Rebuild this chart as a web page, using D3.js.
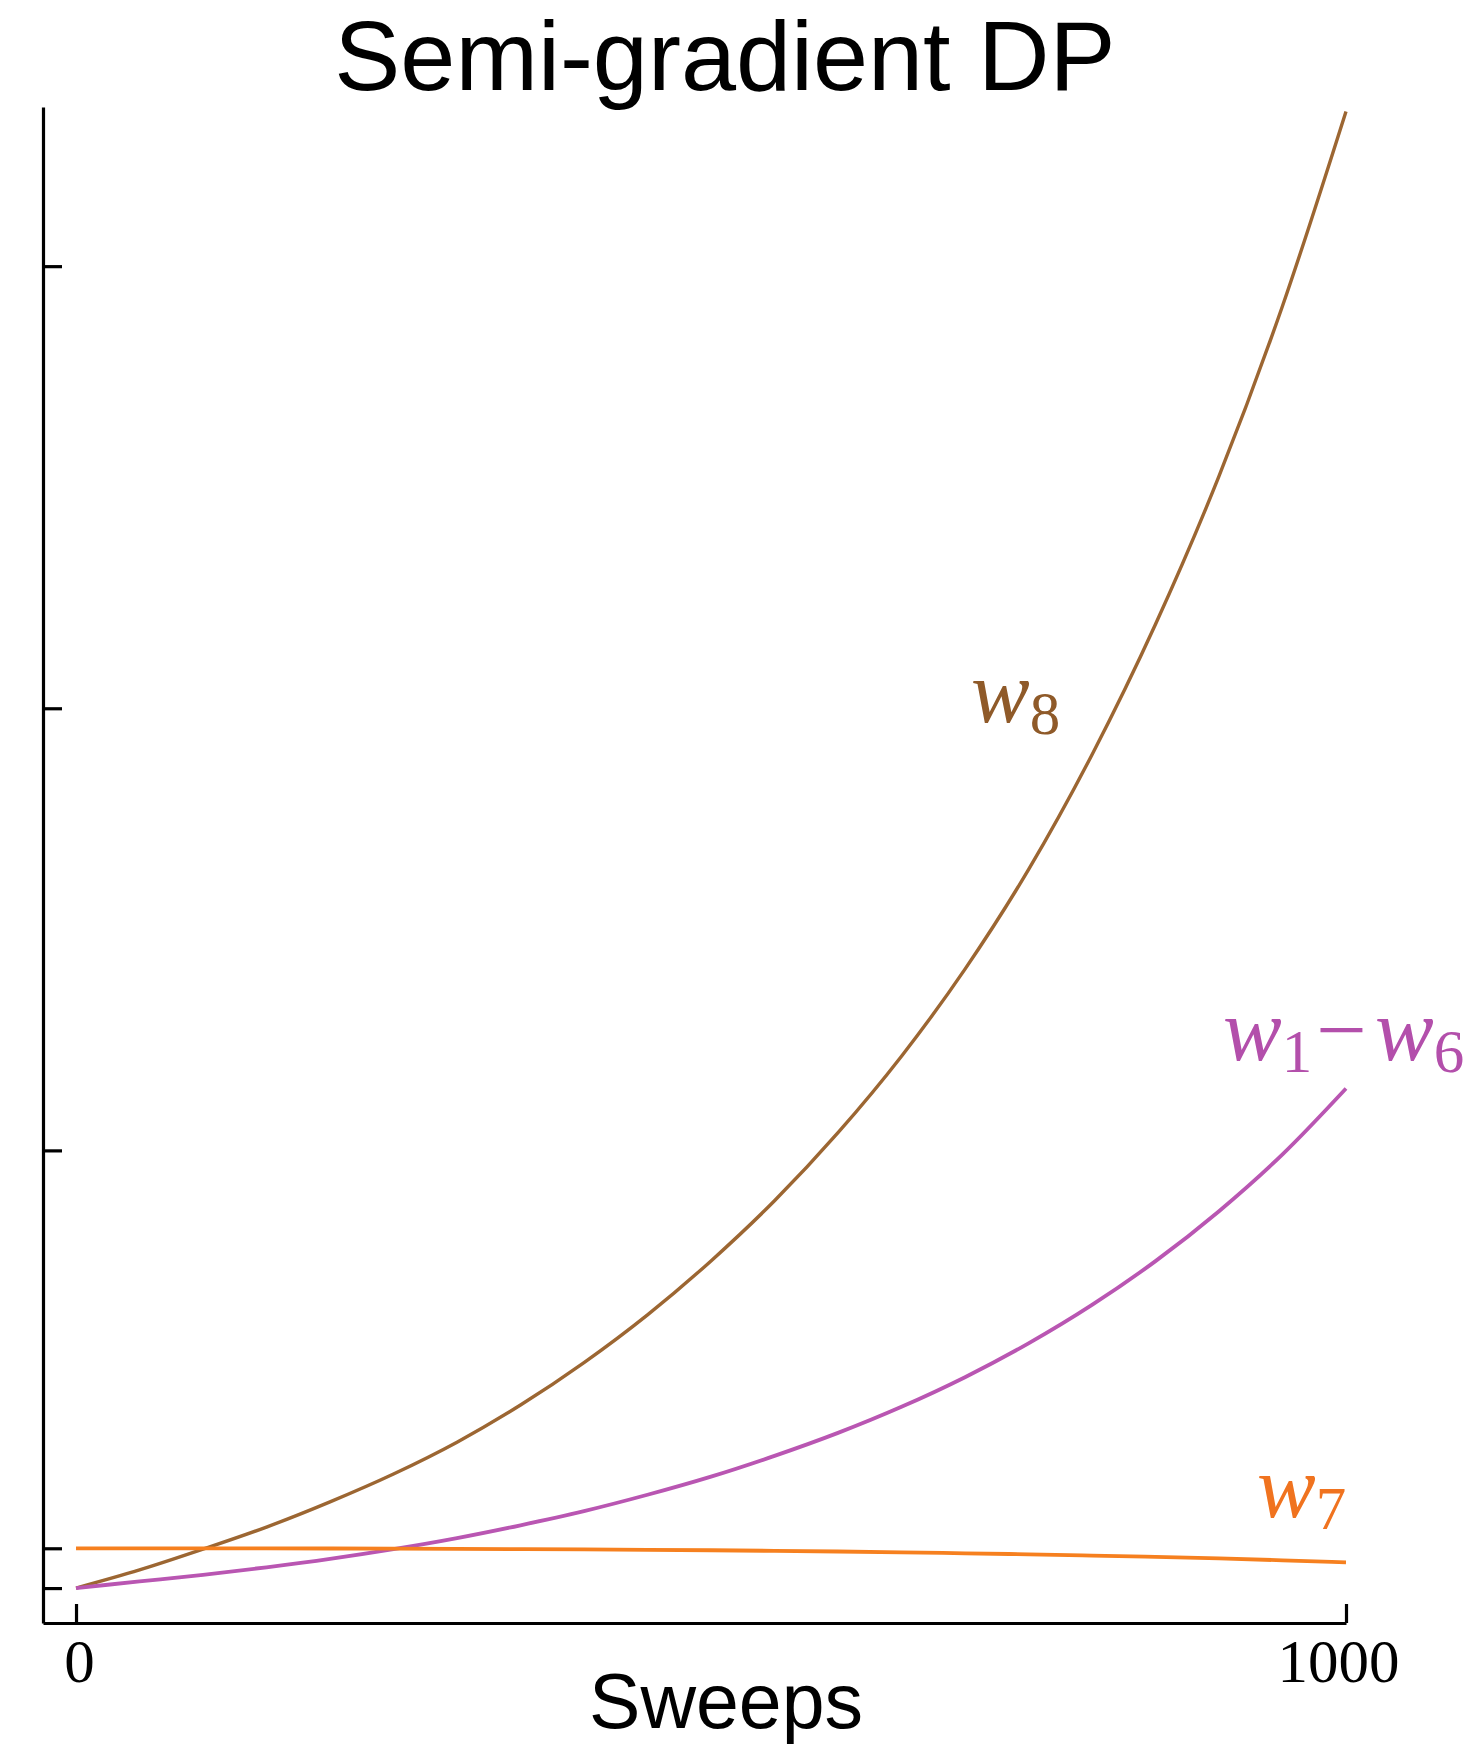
<!DOCTYPE html>
<html>
<head>
<meta charset="utf-8">
<script src="https://cdn.jsdelivr.net/npm/d3@7"></script>
<style>
  html, body { margin: 0; padding: 0; background: #fff; }
  svg { display: block; }
  .axis path, .axis line { stroke: #000; stroke-width: 3.2; }
  .tick text { font-family: "Liberation Serif", "Times New Roman", serif; fill: #000; }
  .lbl { font-family: "Liberation Serif", "Times New Roman", serif; }
</style>
</head>
<body>
<svg></svg>
<script>
const width = 1481;
const height = 1754;

// ================================
// Data
// ================================

const sweeps = [0, 50, 100, 150, 200, 250, 300, 350, 400, 450, 500,
                550, 600, 650, 700, 750, 800, 850, 900, 950, 1000];
const w8 = [1, 5.1, 9.8, 14.8, 20.5, 26.8, 34, 42.4, 52, 62.8, 75,
            88.6, 104, 121.3, 141, 163.5, 189.5, 219, 252.5, 291, 335];
const w1to6 = [1, 2.5, 4, 5.7, 7.6, 9.8, 12.3, 15.2, 18.4, 22.1, 26.2,
               30.9, 36.1, 42, 48.7, 56.35, 65.05, 74.95, 86.25, 99.1, 114];
const w7 = [10, 10, 10, 9.98, 9.95, 9.92, 9.88, 9.82, 9.75, 9.66, 9.55,
            9.42, 9.27, 9.08, 8.87, 8.63, 8.36, 8.05, 7.7, 7.28, 6.8];

const xTicks = [0, 1000];
const yTicks = [1, 10, 100, 200, 300];
const xLim = [-26, 1000];
const yLim = [-6.9, 336];

const series = [
  { name: 'w8', values: w8, color: '#9c6632', width: 3.4 },
  { name: 'w1-w6', values: w1to6, color: '#b956b2', width: 3.8 },
  { name: 'w7', values: w7, color: '#f6801f', width: 3.8 }
];

// ================================
// Scales and axes
// ================================

const svg = d3.select('svg')
  .attr('width', width)
  .attr('height', height);

const x = d3.scaleLinear().domain(xLim).range([43, 1346]);
const y = d3.scaleLinear().domain(yLim).range([1623, 107]);

svg.append('g')
  .attr('class', 'axis')
  .attr('transform', `translate(${x(xLim[0])},0)`)
  .call(d3.axisLeft(y)
    .tickValues(yTicks)
    .tickFormat('')
    .tickSizeInner(-19)
    .tickSizeOuter(0));

const xAxis = svg.append('g')
  .attr('class', 'axis')
  .attr('transform', `translate(0,${y(yLim[0])})`)
  .call(d3.axisBottom(x)
    .tickValues(xTicks)
    .tickFormat(d3.format('d'))
    .tickSizeInner(-19)
    .tickSizeOuter(0));

// glyphs of the original font sit a little off centre
xAxis.selectAll('.tick text')
  .attr('y', 59)
  .attr('dy', 0)
  .attr('dx', d => d === 0 ? 3 : -8)
  .style('font-size', '61px');

// ================================
// Lines
// ================================

const line = d3.line()
  .x((d, i) => x(sweeps[i]))
  .y(d => y(d))
  .curve(d3.curveMonotoneX);

svg.selectAll('path.series')
  .data(series)
  .enter()
  .append('path')
    .attr('class', 'series')
    .attr('fill', 'none')
    .attr('stroke', d => d.color)
    .attr('stroke-width', d => d.width)
    .attr('d', d => line(d.values));

// ================================
// Titles and line labels
// ================================

svg.append('text')
  .attr('x', 725)
  .attr('y', 90)
  .attr('text-anchor', 'middle')
  .style('font-family', '"Liberation Sans", Arial, Helvetica, sans-serif')
  .style('font-size', '99px')
  .text('Semi-gradient DP');

svg.append('text')
  .attr('x', 726)
  .attr('y', 1728)
  .attr('text-anchor', 'middle')
  .style('font-family', '"Liberation Sans", Arial, Helvetica, sans-serif')
  .style('font-size', '77px')
  .text('Sweeps');

// math style label: italic w with a subscript
function mathLabel(parts, px, py, color) {
  const t = svg.append('text')
    .attr('class', 'lbl')
    .attr('x', px)
    .attr('y', py)
    .attr('fill', color);
  parts.forEach(p => {
    const s = t.append('tspan').text(p.text);
    if (p.kind === 'w') s.style('font-style', 'italic').style('font-size', '88px');
    if (p.kind === 'sub') s.style('font-size', '61px').attr('dy', 12);
    if (p.kind === 'op') s.style('font-size', '90px').attr('dy', -12).attr('dx', 4);
    if (p.dx) s.attr('dx', p.dx);
  });
  return t;
}

mathLabel([
  { kind: 'w', text: 'w' },
  { kind: 'sub', text: '8' }
], 971, 722, '#8f5a29');

mathLabel([
  { kind: 'w', text: 'w' },
  { kind: 'sub', text: '1' },
  { kind: 'op', text: '\u2212' },
  { kind: 'w', text: 'w', dx: 8 },
  { kind: 'sub', text: '6' }
], 1223, 1060, '#b34fab');

mathLabel([
  { kind: 'w', text: 'w' },
  { kind: 'sub', text: '7' }
], 1257, 1517, '#f0731f');
</script>
</body>
</html>
